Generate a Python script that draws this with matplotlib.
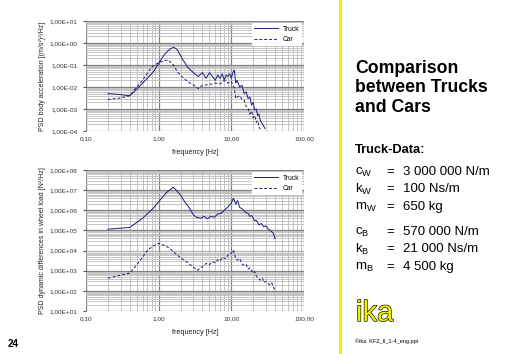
import matplotlib
matplotlib.use("Agg")
import matplotlib.pyplot as plt
import matplotlib.patheffects as pe
from matplotlib.ticker import LogLocator, FixedLocator, NullFormatter

plt.rcParams['font.family'] = ['Liberation Sans', 'DejaVu Sans']

# body acceleration PSD (top chart)
acc_truck_f = [0.2, 0.3, 0.4, 0.5, 0.6, 0.7, 0.85, 1.0, 1.2, 1.4, 1.6, 1.8, 2.1, 2.5, 3.0,
               3.5, 4.0, 4.5, 5.0, 5.5, 6.0, 6.5, 7.0, 7.5, 8.0, 8.5, 9.0, 9.5, 10.0, 10.5,
               11.0, 11.5, 12.0, 13.0, 14.0, 15.0, 16.0, 17.0, 18.0, 19.0, 20.0, 21.0,
               22.0, 23.0, 24.0, 25.0, 27.0, 29.0]
acc_truck = [0.005, 0.0045, 0.004, 0.008, 0.015, 0.025, 0.05, 0.12, 0.3, 0.5, 0.65, 0.5,
             0.2, 0.08, 0.045, 0.03, 0.045, 0.025, 0.045, 0.03, 0.02, 0.035, 0.025, 0.04,
             0.02, 0.035, 0.03, 0.04, 0.025, 0.045, 0.06, 0.015, 0.02, 0.01, 0.012, 0.005,
             0.006, 0.003, 0.0035, 0.0015, 0.002, 0.0009, 0.001, 0.0005, 0.0006, 0.0003,
             0.0002, 0.00013]
acc_car_f = [0.2, 0.3, 0.4, 0.5, 0.6, 0.8, 1.0, 1.2, 1.35, 1.6, 1.8, 2.2, 2.7, 3.2, 3.5,
             4.0, 5.0, 6.0, 7.0, 8.0, 9.0, 10.0, 11.0, 11.5, 12.0, 13.0, 14.0, 15.0, 16.0,
             17.0, 18.0, 19.0, 20.0, 21.0, 22.0, 23.0, 24.0, 25.0]
acc_car = [0.0027, 0.0032, 0.004, 0.01, 0.02, 0.08, 0.13, 0.16, 0.17, 0.1, 0.05, 0.025,
           0.015, 0.011, 0.0085, 0.012, 0.013, 0.015, 0.014, 0.02, 0.015, 0.018, 0.009,
           0.003, 0.0035, 0.004, 0.0028, 0.0025, 0.0013, 0.0011, 0.0006, 0.0008, 0.0004,
           0.0005, 0.00025, 0.0003, 0.00015, 0.00012]

# wheel load PSD (bottom chart)
load_truck_f = [0.2, 0.4, 0.6, 0.85, 1.1, 1.3, 1.6, 2.0, 2.3, 2.6, 3.0, 3.3, 3.8, 4.2, 4.7,
                5.2, 5.8, 6.5, 7.2, 8.0, 9.0, 10.0, 10.7, 11.5, 12.2, 13.0, 14.0, 15.6, 17.0,
                18.0, 19.0, 20.0, 21.0, 22.0, 24.0, 26.0, 28.0, 30.0, 32.0, 34.0, 36.0,
                38.0, 40.0]
load_truck = [1.15e5, 1.4e5, 4e5, 1.3e6, 4e6, 8e6, 1.4e7, 5.7e6, 2.5e6, 1.45e6, 6e5, 4.5e5,
              4e5, 5e5, 3.8e5, 5e5, 4.5e5, 6.5e5, 7e5, 1e6, 1.5e6, 2.3e6, 4e6, 2e6, 3e6,
              1.4e6, 1.2e6, 8e5, 7e5, 5e5, 5.5e5, 4e5, 3e5, 3.2e5, 1.9e5, 2.2e5, 1.5e5,
              1.7e5, 1.2e5, 1e5, 8.5e4, 7e4, 4e4]
load_car_f = [0.2, 0.4, 0.55, 0.7, 0.85, 1.0, 1.25, 1.5, 1.8, 2.2, 2.6, 3.0, 3.4, 4.0, 4.5,
              5.0, 5.5, 6.0, 6.5, 7.0, 7.6, 8.3, 9.0, 10.0, 10.7, 11.3, 12.0, 13.0, 14.0,
              14.6, 16.0, 17.0, 18.0, 20.0, 21.0, 22.0, 24.0, 25.0, 27.0, 28.0, 30.0,
              32.0, 34.0, 36.0, 38.0, 40.0]
load_car = [425, 760, 3000, 1.05e4, 1.7e4, 2.3e4, 1.7e4, 1.1e4, 5.9e3, 3.5e3, 2.3e3, 1.5e3,
            1.05e3, 1.6e3, 2.3e3, 2.0e3, 2.8e3, 2.5e3, 3.5e3, 3.0e3, 4.7e3, 4e3, 6e3,
            7.4e3, 1.05e4, 5e3, 3.3e3, 4e3, 2.2e3, 1.9e3, 2.1e3, 1.2e3, 1.4e3, 760, 900,
            550, 400, 340, 420, 260, 300, 240, 200, 250, 150, 107]

x_ticks = [0.1, 1, 10, 100]
x_labels = ['0,10', '1,00', '10,00', '100,00']
acc_ticks = [1e-4, 1e-3, 1e-2, 1e-1, 1, 10]
acc_labels = ['1,00E-04', '1,00E-03', '1,00E-02', '1,00E-01', '1,00E+00', '1,00E+01']
load_ticks = [1e1, 1e2, 1e3, 1e4, 1e5, 1e6, 1e7, 1e8]
load_labels = ['1,00E+01', '1,00E+02', '1,00E+03', '1,00E+04', '1,00E+05', '1,00E+06',
               '1,00E+07', '1,00E+08']

params = [('c', 'W', '3 000 000 N/m'), ('k', 'W', '100 Ns/m'), ('m', 'W', '650 kg'),
          ('c', 'B', '570 000 N/m'), ('k', 'B', '21 000 Ns/m'), ('m', 'B', '4 500 kg')]

W, H = 512, 354
fig = plt.figure(figsize=(W / 100, H / 100), dpi=100)
line_col = '#1c1c78'


def setup(ax, yticks, ylabels, ylim, ylabel):
    ax.set_xscale('log')
    ax.set_yscale('log')
    ax.set_xlim(0.1, 100)
    ax.set_ylim(*ylim)
    ax.xaxis.set_major_locator(FixedLocator(x_ticks))
    ax.set_xticklabels(x_labels)
    ax.yaxis.set_major_locator(FixedLocator(yticks))
    ax.set_yticklabels(ylabels)
    ax.xaxis.set_minor_locator(LogLocator(base=10, subs=range(2, 10), numticks=20))
    ax.yaxis.set_minor_locator(LogLocator(base=10, subs=range(2, 10), numticks=20))
    ax.xaxis.set_minor_formatter(NullFormatter())
    ax.yaxis.set_minor_formatter(NullFormatter())
    ax.grid(True, which='major', color='#808080', lw=0.9)
    ax.grid(True, which='minor', color='#bcbcbc', lw=0.6)
    ax.tick_params(which='both', length=0, labelsize=4.6, colors='#333333', pad=4)
    ax.tick_params(axis='y', which='major', length=2, color='#555555')
    for s in ax.spines.values():
        s.set_visible(False)
    ax.set_xlabel('frequency [Hz]', fontsize=5.2, labelpad=5, color='#222222')
    ax.set_ylabel(ylabel, fontsize=5.0, labelpad=3, color='#222222')


ax1 = fig.add_axes([86 / W, 1 - 131 / H, 218 / W, 110 / H])
ax1.plot(acc_truck_f, acc_truck, color=line_col, lw=0.7, label='Truck')
ax1.plot(acc_car_f, acc_car, color=line_col, lw=0.7, ls=(0, (3, 2)), label='Car')
setup(ax1, acc_ticks, acc_labels, (1e-4, 10), 'PSD body acceleration [(m/s²)²/Hz]')
ax1.legend(loc='upper right', fontsize=4.8, handlelength=3.5, frameon=True,
           facecolor='white', edgecolor='none', framealpha=1, borderaxespad=0.3)

ax2 = fig.add_axes([86 / W, 1 - 311 / H, 218 / W, 141 / H])
ax2.plot(load_truck_f, load_truck, color=line_col, lw=0.7, label='Truck')
ax2.plot(load_car_f, load_car, color=line_col, lw=0.7, ls=(0, (3, 2)), label='Car')
setup(ax2, load_ticks, load_labels, (10, 1e8), 'PSD dynamic differences in wheel load [N²/Hz]')
ax2.legend(loc='upper right', fontsize=4.8, handlelength=3.5, frameon=True,
           facecolor='white', edgecolor='none', framealpha=1, borderaxespad=0.3)

# yellow separator
fig.add_artist(plt.Line2D([340 / W, 340 / W], [0, 1], color='#f2f000', lw=2.2))

# title
fig.text(355 / W, 1 - 88 / H, 'Comparison\nbetween Trucks\nand Cars', fontsize=12.7,
         fontweight='bold', va='center', ha='left', linespacing=1.17)
fig.text(355 / W, 1 - 150 / H, 'Truck-Data:', fontsize=9.3, fontweight='bold',
         va='center', ha='left')

rows_y = [172, 189, 207, 232, 249, 267]
for (sym, sub, val), y in zip(params, rows_y):
    fig.text(355 / W, 1 - y / H, sym + r'$\mathregular{_{' + sub + '}}$', fontsize=9.5,
             va='center', ha='left')
    fig.text(386 / W, 1 - y / H, '=', fontsize=9.5, va='center', ha='left')
    fig.text(403 / W, 1 - y / H, val, fontsize=9.5, va='center', ha='left')

# logo and footer
fig.text(356 / W, 1 - 313 / H, 'ika', fontsize=21, color='#f0f000', va='center', ha='left',
         path_effects=[pe.withStroke(linewidth=0.9, foreground='black')])
fig.text(355 / W, 1 - 341 / H, '©ika  KFZ_II_1-4_eng.ppt', fontsize=4.0, va='center',
         ha='left')
fig.text(8 / W, 1 - 344 / H, '24', fontsize=7, fontweight='bold', va='center', ha='left')

fig.savefig('out.png', dpi=100)
